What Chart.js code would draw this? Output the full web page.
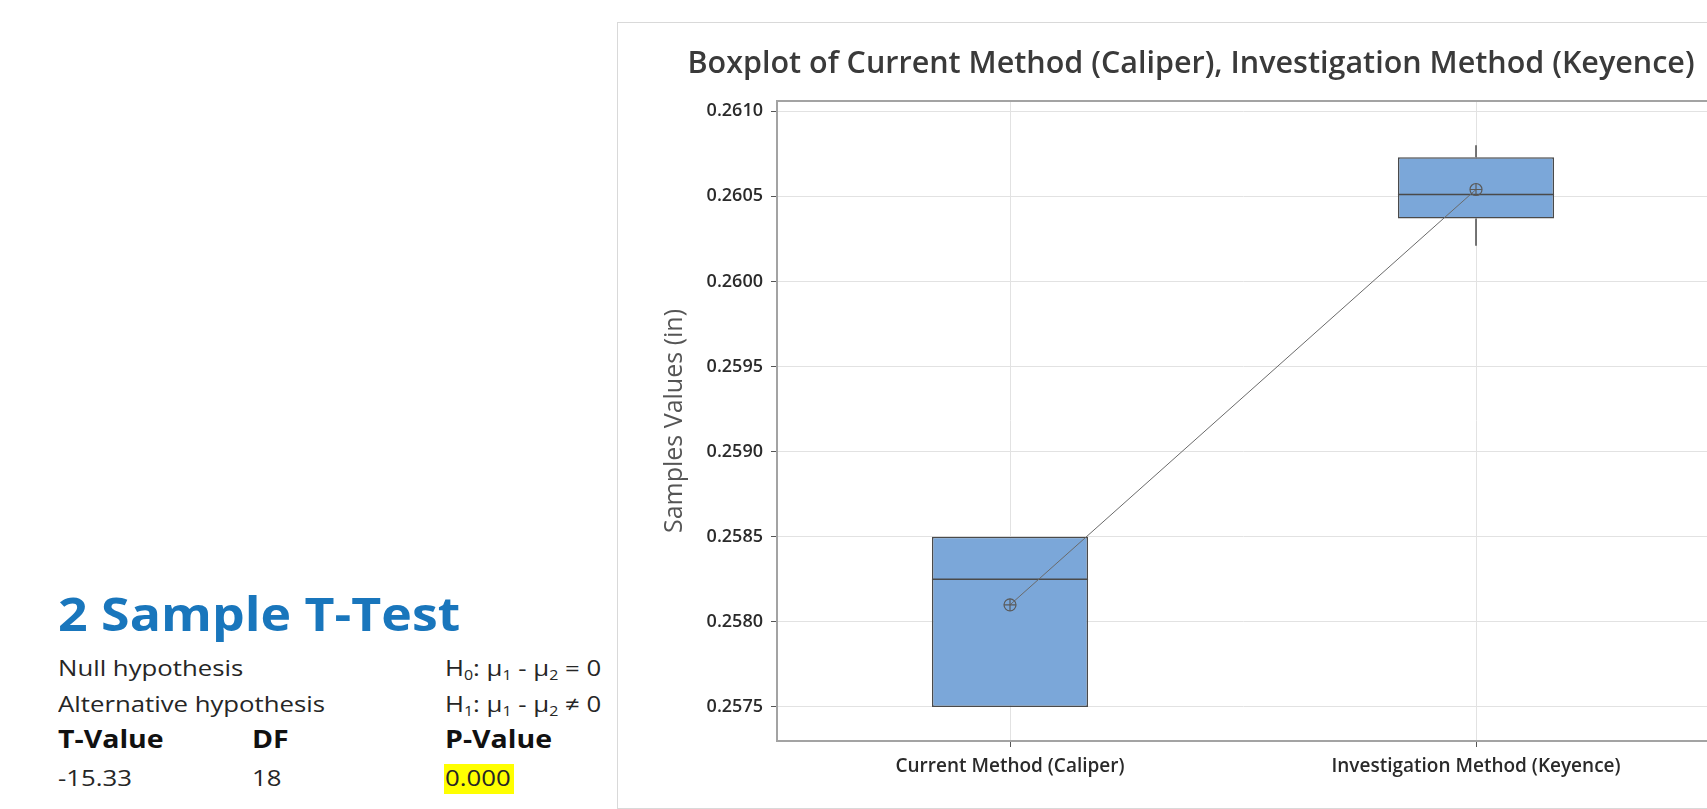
<!DOCTYPE html>
<html>
<head>
<meta charset="utf-8">
<script src="https://cdn.jsdelivr.net/npm/chart.js@4.4.1/dist/chart.umd.min.js"></script>
<style>
  html, body { margin: 0; padding: 0; background: #fff; width: 1707px; height: 809px; overflow: hidden; }
  #panel { position: absolute; left: 617px; top: 22px; width: 1300px; height: 785px; border: 1px solid #d9d9d9; background: #fff; }
  #chart { position: absolute; left: 0; top: 0; }
  .t { position: absolute; white-space: nowrap; font-family: 'Open Sans', sans-serif; color: #262626; line-height: 1; transform-origin: 0 0; transform: scaleX(1.17); }
  .t .s { font-size: 0.62em; vertical-align: -0.28em; line-height: 1; }
  .head { font-size: 47px; font-weight: 700; color: #1976bc; transform: scaleX(1.103); }
  .r { font-size: 22px; }
  .b { font-size: 25px; font-weight: 700; color: #111; transform: scaleX(1.14); }
  #hl { position: absolute; left: 444px; top: 764px; width: 70px; height: 30px; background: #ffff00; }
</style>
</head>
<body>
<div class="t head" style="left:58px; top:590px;">2 Sample T-Test</div>

<div class="t r" style="left:58px; top:656px;">Null hypothesis</div>
<div class="t r" style="left:445px; top:656px;">H<span class="s">0</span>: μ<span class="s">1</span> - μ<span class="s">2</span> = 0</div>

<div class="t r" style="left:58px; top:692px;">Alternative hypothesis</div>
<div class="t r" style="left:445px; top:692px;">H<span class="s">1</span>: μ<span class="s">1</span> - μ<span class="s">2</span> ≠ 0</div>

<div class="t b" style="left:58px; top:726px;">T-Value</div>
<div class="t b" style="left:252px; top:726px;">DF</div>
<div class="t b" style="left:445px; top:726px;">P-Value</div>

<div id="hl"></div>
<div class="t r" style="left:58px; top:766px;">-15.33</div>
<div class="t r" style="left:252px; top:766px;">18</div>
<div class="t r" style="left:445px; top:766px;">0.000</div>

<div id="panel"><canvas id="chart" width="1146" height="785"></canvas></div>

<script>
// Groups on the category axis
const categories = ['Current Method (Caliper)', 'Investigation Method (Keyence)'];

// Box plot statistics per group (inches)
const q1Values     = [0.25750, 0.26037];
const q3Values     = [0.25850, 0.26073];
const medianValues = [0.25825, 0.26051];
const meanValues   = [0.25810, 0.26054];
const whiskerLow   = [0.25750, 0.26021];
const whiskerHigh  = [0.25850, 0.26080];

// Value axis
const yTicks = [0.2575, 0.2580, 0.2585, 0.2590, 0.2595, 0.2600, 0.2605, 0.2610];
const yMin = 0.25730;
const yMax = 0.26106;

const boxColor = '#7ba7d9';
const edgeColor = '#4a4a4a';

// Frame top edge, medians and whiskers, drawn through the chart scales
const boxParts = {
  id: 'boxParts',
  beforeDatasetsDraw(chart) {
    const { ctx, chartArea: a } = chart;
    ctx.save();
    ctx.strokeStyle = '#a3a3a3';
    ctx.lineWidth = 2;
    ctx.beginPath();
    ctx.moveTo(a.left, a.top);
    ctx.lineTo(a.right, a.top);
    ctx.stroke();
    ctx.restore();
  },
  afterDatasetDraw(chart, args) {
    if (args.index !== 0) return;
    const { ctx, scales: { x, y } } = chart;
    const meta = chart.getDatasetMeta(0);
    ctx.save();
    ctx.strokeStyle = edgeColor;
    ctx.lineWidth = 1.5;
    meta.data.forEach((bar, i) => {
      const cx = x.getPixelForValue(i);
      const half = bar.width / 2;
      const my = y.getPixelForValue(medianValues[i]);
      ctx.beginPath();
      ctx.moveTo(cx - half, my);
      ctx.lineTo(cx + half, my);
      ctx.stroke();
      if (whiskerHigh[i] > q3Values[i]) {
        ctx.beginPath();
        ctx.moveTo(cx, y.getPixelForValue(q3Values[i]));
        ctx.lineTo(cx, y.getPixelForValue(whiskerHigh[i]));
        ctx.stroke();
      }
      if (whiskerLow[i] < q1Values[i]) {
        ctx.beginPath();
        ctx.moveTo(cx, y.getPixelForValue(q1Values[i]));
        ctx.lineTo(cx, y.getPixelForValue(whiskerLow[i]));
        ctx.stroke();
      }
    });
    ctx.restore();
  }
};

new Chart(document.getElementById('chart'), {
  type: 'bar',
  data: {
    labels: categories,
    datasets: [
      {
        type: 'bar',
        data: categories.map((c, i) => [q1Values[i], q3Values[i]]),
        backgroundColor: boxColor,
        borderColor: edgeColor,
        borderWidth: 1.5,
        borderSkipped: false,
        barPercentage: 0.335,
        categoryPercentage: 1,
        order: 2
      },
      {
        type: 'line',
        data: meanValues,
        borderColor: '#6a6a6a',
        borderWidth: 1,
        pointStyle: 'circle',
        pointRadius: 6,
        pointBorderWidth: 1.2,
        pointBorderColor: '#5a5a5a',
        pointBackgroundColor: 'rgba(0,0,0,0)',
        order: 1
      },
      {
        type: 'line',
        data: meanValues,
        showLine: false,
        pointStyle: 'cross',
        pointRadius: 6,
        pointBorderWidth: 1.2,
        pointBorderColor: '#5a5a5a',
        order: 0
      }
    ]
  },
  options: {
    responsive: false,
    animation: false,
    layout: { padding: 0 },
    plugins: {
      legend: { display: false },
      tooltip: { enabled: false },
      title: {
        display: true,
        text: 'Boxplot of Current Method (Caliper), Investigation Method (Keyence)',
        color: '#3a3a3a',
        font: { family: 'Open Sans', size: 30.5, weight: 600 },
        padding: { top: 23, bottom: 18.4 }
      }
    },
    scales: {
      x: {
        type: 'category',
        offset: true,
        grid: { display: true, offset: false, color: '#e2e2e2', lineWidth: 1, drawTicks: true, tickLength: 6, tickColor: '#555' },
        border: { display: true, color: '#a3a3a3', width: 2 },
        ticks: { color: '#2a2a2a', font: { family: 'Open Sans', size: 19, weight: 600 }, padding: 8, maxRotation: 0, autoSkip: false },
        afterFit(s) { s.height = 67; }
      },
      y: {
        type: 'linear',
        position: 'left',
        min: yMin,
        max: yMax,
        afterBuildTicks(s) { s.ticks = yTicks.map(v => ({ value: v })); },
        grid: { color: '#e2e2e2', lineWidth: 1, tickLength: 6, tickColor: '#555' },
        border: { display: true, color: '#a3a3a3', width: 2 },
        ticks: { color: '#2a2a2a', font: { family: 'Open Sans', size: 18, weight: 600 }, padding: 8, callback: v => v.toFixed(4) },
        title: { display: true, text: 'Samples Values (in)', color: '#555', font: { family: 'Open Sans', size: 25, weight: 400 }, padding: { top: 42, bottom: 0 } },
        afterFit(s) { s.width = 159; }
      },
      yR: {
        position: 'right',
        display: true,
        grid: { display: false },
        border: { display: false },
        ticks: { display: false },
        afterFit(s) { s.width = 55; }
      }
    }
  },
  plugins: [boxParts]
});
</script>
</body>
</html>
